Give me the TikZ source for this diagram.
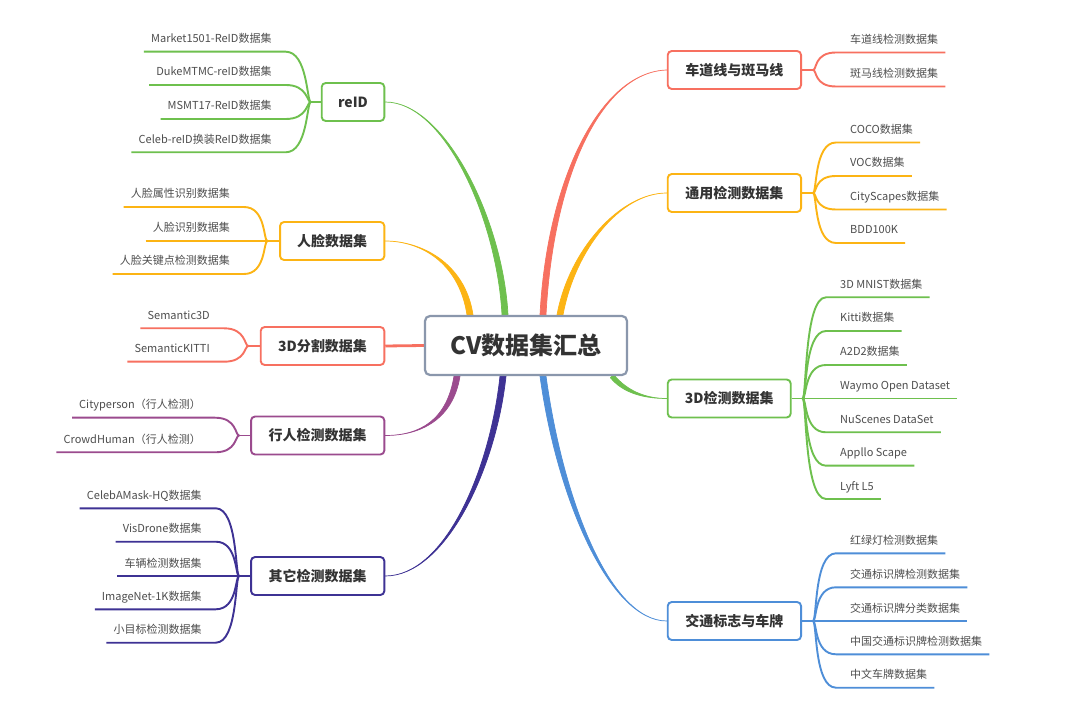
\documentclass[tikz,border=0pt]{standalone}
\usepackage{fontspec}
\setmainfont{Noto Sans CJK SC}
\usetikzlibrary{calc}
\definecolor{cvred}{RGB}{247,112,96}
\definecolor{cvorange}{RGB}{252,180,20}
\definecolor{cvgreen}{RGB}{110,192,78}
\definecolor{cvpurple}{RGB}{155,75,142}
\definecolor{cvindigo}{RGB}{62,50,148}
\definecolor{cvblue}{RGB}{78,142,216}
\definecolor{cvgray}{RGB}{138,151,172}
\definecolor{cvtext}{RGB}{51,51,51}
\definecolor{leaftext}{RGB}{78,78,78}
\pgfdeclarelayer{background}
\pgfsetlayers{background,main}
\tikzset{
	hub/.style={draw=cvgray, line width=2.2pt, rounded corners=5pt, fill=white, minimum width=202pt, minimum height=59pt, inner sep=0pt, font=\fontsize{24}{28}\selectfont\bfseries, text=cvtext},
	topic/.style={draw=#1, line width=1.9pt, rounded corners=4pt, fill=white, minimum height=38pt, inner sep=0pt, font=\fontsize{14}{17}\selectfont\bfseries, text=cvtext},
	leaf/.style={inner sep=0pt, font=\fontsize{11}{13}\selectfont, text=leaftext},
	twig/.style={draw=#1, line width=1.9pt},
}
% tapered main branch: colour, start, control 1, control 2, end, half width
\newcommand{\trunk}[6]{%
	\filldraw[#1, line width=0.7pt, line join=round]
		($(#2)+(#6)$) .. controls ($(#3)+(#6)$) and (#4) .. (#5)
		.. controls (#4) and ($(#3)-(#6)$) .. ($(#2)-(#6)$) -- cycle;}
\begin{document}
\begin{tikzpicture}[x=1pt,y=-1pt]
	\useasboundingbox (0,0) rectangle (1080,703);

	\node[hub] (cv) at (526,345.5) {CV数据集汇总};

	% left topics
	\node[topic=cvgreen, minimum width=62.6pt] (reid) at (353,102) {reID};
	\node[topic=cvorange, minimum width=104.3pt] (face) at (332.2,241) {人脸数据集};
	\node[topic=cvred, minimum width=123.6pt] (seg) at (322.5,346) {3D分割数据集};
	\node[topic=cvpurple, minimum width=133.3pt] (ped) at (317.7,435.5) {行人检测数据集};
	\node[topic=cvindigo, minimum width=133.3pt] (other) at (317.7,576) {其它检测数据集};

	% right topics
	\node[topic=cvred, minimum width=133.3pt] (lane) at (734.4,70) {车道线与斑马线};
	\node[topic=cvorange, minimum width=133.3pt] (gen) at (734.4,193) {通用检测数据集};
	\node[topic=cvgreen, minimum width=123pt] (det) at (729.2,398.5) {3D检测数据集};
	\node[topic=cvblue, minimum width=133.3pt] (traffic) at (734.4,621) {交通标志与车牌};

	% main branches
	\coordinate (cv-reid) at ($(cv.north)+(-21,0)$);
	\coordinate (cv-face) at ($(cv.north)+(-56,0)$);
	\coordinate (cv-lane) at ($(cv.north)+(17,0)$);
	\coordinate (cv-gen) at ($(cv.north)+(34,0)$);
	\coordinate (cv-ped) at ($(cv.south)+(-69,0)$);
	\coordinate (cv-other) at ($(cv.south)+(-23,0)$);
	\coordinate (cv-traffic) at ($(cv.south)+(17,0)$);
	\coordinate (cv-det) at ($(cv.south)+(86,0)$);
	\begin{pgfonlayer}{background}
		\fill[white] (0,0) rectangle (1080,703);
		\trunk{cvgreen}{cv-reid}{500,220}{445,102}{reid.east}{3,0}
		\trunk{cvorange}{cv-face}{462,262}{420,241}{face.east}{3,0}
		\trunk{cvred}{cv-lane}{550,180}{600,72}{lane.west}{3,0}
		\trunk{cvorange}{cv-gen}{572,250}{620,193}{gen.west}{3,0}
		\trunk{cvpurple}{cv-ped}{450,420}{420,435.5}{ped.east}{3,0}
		\trunk{cvindigo}{cv-other}{493,470}{445,576}{other.east}{3,0}
		\trunk{cvblue}{cv-traffic}{560,500}{610,621}{traffic.west}{3,0}
		\trunk{cvgreen}{cv-det}{625,392}{645,398.5}{det.west}{1.6,-1.6}
		\draw[cvred, line width=2.8pt] (cv.west) -- (seg.east);
	\end{pgfonlayer}

	% branch points
	\coordinate (reidb) at ($(reid.west)+(-10,0)$);
	\coordinate (faceb) at ($(face.west)+(-11.7,0)$);
	\coordinate (segb) at ($(seg.west)+(-11.4,0)$);
	\coordinate (pedb) at ($(ped.west)+(-11,0)$);
	\coordinate (otherb) at ($(other.west)+(-11,0)$);
	\coordinate (laneb) at ($(lane.east)+(11,0)$);
	\coordinate (genb) at ($(gen.east)+(11,0)$);
	\coordinate (detb) at ($(det.east)+(11,0)$);
	\coordinate (trafficb) at ($(traffic.east)+(11,0)$);
	\draw[twig=cvgreen] (reid.west) -- (reidb);
	\draw[twig=cvorange] (face.west) -- (faceb);
	\draw[twig=cvred] (seg.west) -- (segb);
	\draw[twig=cvpurple] (ped.west) -- (pedb);
	\draw[twig=cvindigo] (other.west) -- (otherb);
	\draw[twig=cvred] (lane.east) -- (laneb);
	\draw[twig=cvorange] (gen.east) -- (genb);
	\draw[twig=cvgreen] (det.east) -- (detb);
	\draw[twig=cvblue] (traffic.east) -- (trafficb);

	% left leaves
	\foreach \txt/\y [count=\i] in {Market1501-ReID数据集/51.7, DukeMTMC-reID数据集/85, MSMT17-ReID数据集/119, Celeb-reID换装ReID数据集/152.3}{
		\node[leaf, anchor=base east] (reid\i) at (271.7,\y-9) {\txt};
		\draw[twig=cvgreen] ($(reid\i.base west)+(-7,9)$) -- ($(reid\i.base east)+(14,9)$)
			.. controls ($(reid\i.base east)+(36,9)$) and ($(reidb)+(-4,0)$) .. (reidb);
	}
	\foreach \txt/\y [count=\i] in {人脸属性识别数据集/207, 人脸识别数据集/241, 人脸关键点检测数据集/274}{
		\node[leaf, anchor=base east] (face\i) at (230,\y-9) {\txt};
		\draw[twig=cvorange] ($(face\i.base west)+(-7,9)$) -- ($(face\i.base east)+(14,9)$)
			.. controls ($(face\i.base east)+(36,9)$) and ($(faceb)+(-4,0)$) .. (faceb);
	}
	\foreach \txt/\y [count=\i] in {Semantic3D/328.3, SemanticKITTI/361.7}{
		\node[leaf, anchor=base east] (seg\i) at (210,\y-9) {\txt};
		\draw[twig=cvred] ($(seg\i.base west)+(-7,9)$) -- ($(seg\i.base east)+(14,9)$)
			.. controls ($(seg\i.base east)+(36,9)$) and ($(segb)+(-4,0)$) .. (segb);
	}
	\foreach \txt/\y [count=\i] in {Cityperson（行人检测）/417.7, CrowdHuman（行人检测）/452.3}{
		\node[leaf, anchor=base east] (ped\i) at (201,\y-9) {\txt};
		\draw[twig=cvpurple] ($(ped\i.base west)+(-7,9)$) -- ($(ped\i.base east)+(14,9)$)
			.. controls ($(ped\i.base east)+(36,9)$) and ($(pedb)+(-4,0)$) .. (pedb);
	}
	\foreach \txt/\y [count=\i] in {CelebAMask-HQ数据集/508.3, VisDrone数据集/541.7, 车辆检测数据集/576, ImageNet-1K数据集/609.3, 小目标检测数据集/642.7}{
		\node[leaf, anchor=base east] (other\i) at (201.7,\y-9) {\txt};
		\draw[twig=cvindigo] ($(other\i.base west)+(-7,9)$) -- ($(other\i.base east)+(14,9)$)
			.. controls ($(other\i.base east)+(36,9)$) and ($(otherb)+(-4,0)$) .. (otherb);
	}

	% right leaves
	\foreach \txt/\y [count=\i] in {车道线检测数据集/52.5, 斑马线检测数据集/86.5}{
		\node[leaf, anchor=base west] (lane\i) at (850,\y-9) {\txt};
		\draw[twig=cvred] (laneb) .. controls ($(laneb)+(4,0)$) and ($(lane\i.base west)+(-36,9)$)
			.. ($(lane\i.base west)+(-14,9)$) -- ($(lane\i.base east)+(7,9)$);
	}
	\foreach \txt/\y [count=\i] in {COCO数据集/142.5, VOC数据集/176, CityScapes数据集/209.5, BDD100K/243}{
		\node[leaf, anchor=base west] (gen\i) at (850,\y-9) {\txt};
		\draw[twig=cvorange] (genb) .. controls ($(genb)+(4,0)$) and ($(gen\i.base west)+(-36,9)$)
			.. ($(gen\i.base west)+(-14,9)$) -- ($(gen\i.base east)+(7,9)$);
	}
	\foreach \txt/\y [count=\i] in {3D MNIST数据集/297.3, Kitti数据集/331, A2D2数据集/365, Waymo Open Dataset/398.5, NuScenes DataSet/432.3, Appllo Scape/465.7, Lyft L5/499}{
		\node[leaf, anchor=base west] (det\i) at (840,\y-9) {\txt};
		\draw[twig=cvgreen] (detb) .. controls ($(detb)+(4,0)$) and ($(det\i.base west)+(-36,9)$)
			.. ($(det\i.base west)+(-14,9)$) -- ($(det\i.base east)+(7,9)$);
	}
	\foreach \txt/\y [count=\i] in {红绿灯检测数据集/553.3, 交通标识牌检测数据集/587.3, 交通标识牌分类数据集/621, 中国交通标识牌检测数据集/654.3, 中文车牌数据集/687.7}{
		\node[leaf, anchor=base west] (traffic\i) at (850,\y-9) {\txt};
		\draw[twig=cvblue] (trafficb) .. controls ($(trafficb)+(4,0)$) and ($(traffic\i.base west)+(-36,9)$)
			.. ($(traffic\i.base west)+(-14,9)$) -- ($(traffic\i.base east)+(7,9)$);
	}
\end{tikzpicture}
\end{document}
